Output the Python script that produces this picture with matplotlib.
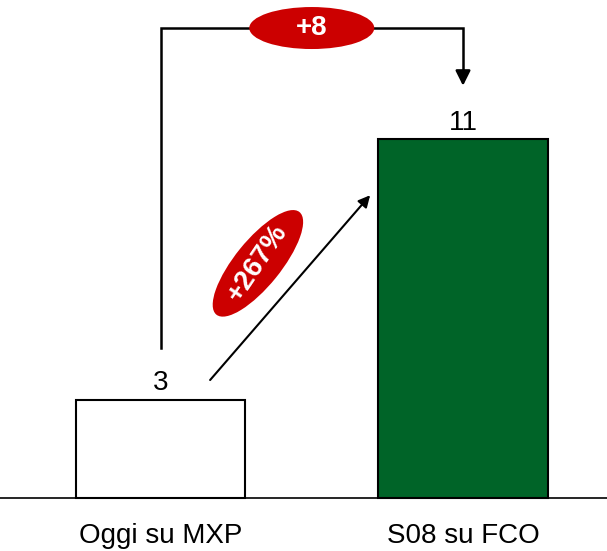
import matplotlib.pyplot as plt
import matplotlib.patches as mpatches
import matplotlib.transforms as mtransforms

categories = ['Oggi su MXP', 'S08 su FCO']
values = [3, 11]
bar_colors = ['white', '#006428']
delta_label = '+8'
pct_label = '+267%'
red = '#CC0000'

plt.rcParams['font.family'] = ['Liberation Sans', 'DejaVu Sans']

fig = plt.figure(figsize=(6.07, 5.51), dpi=100)
ax = fig.add_axes([0, 0, 1, 1])
ax.set_xlim(-0.5306, 1.476)
ax.set_ylim(-1.626, 15.28)
ax.axis('off')

x = [0, 1]
ax.bar(x, values, width=0.559, color=bar_colors, edgecolor='black', linewidth=1.5, zorder=2)
ax.axhline(0, color='black', linewidth=1.2, zorder=3)

for xi, v in zip(x, values):
    ax.text(xi, v + 0.12, str(v), ha='center', va='bottom', fontsize=20)
for xi, c in zip(x, categories):
    ax.text(xi, -1.17, c, ha='center', va='center', fontsize=20)

# bracket +8
top = 14.42
ax.plot([x[0], x[0], x[1], x[1]], [values[0] + 1.6, top, top, values[1] + 2.0],
        color='black', linewidth=1.8, solid_joinstyle='miter', zorder=1)
ax.annotate('', xy=(x[1], values[1] + 1.65), xytext=(x[1], values[1] + 2.1),
            arrowprops=dict(arrowstyle='-|>,head_length=0.9,head_width=0.45',
                            color='black', lw=1.8, shrinkA=0, shrinkB=0))

def red_ellipse(cx, cy, w, h, angle, label, size, rot):
    tr = fig.dpi_scale_trans + mtransforms.ScaledTranslation(cx, cy, ax.transData)
    e = mpatches.Ellipse((0, 0), w, h, angle=angle, facecolor=red, edgecolor='none',
                         transform=tr, zorder=4)
    ax.add_patch(e)
    ax.text(cx, cy, label, ha='center', va='center', fontsize=size, fontweight='bold',
            color='white', rotation=rot, rotation_mode='anchor', zorder=5)

red_ellipse(0.5, top, 1.25, 0.42, 0, delta_label, 20, 0)

# diagonal arrow
ax.annotate('', xy=(0.693, 9.29), xytext=(0.164, 3.62),
            arrowprops=dict(arrowstyle='-|>,head_length=0.7,head_width=0.35',
                            color='black', lw=1.5, shrinkA=0, shrinkB=0))
red_ellipse(0.322, 7.20, 1.32, 0.46, 51, pct_label, 20, 56)

fig.savefig('out.png', dpi=100)
